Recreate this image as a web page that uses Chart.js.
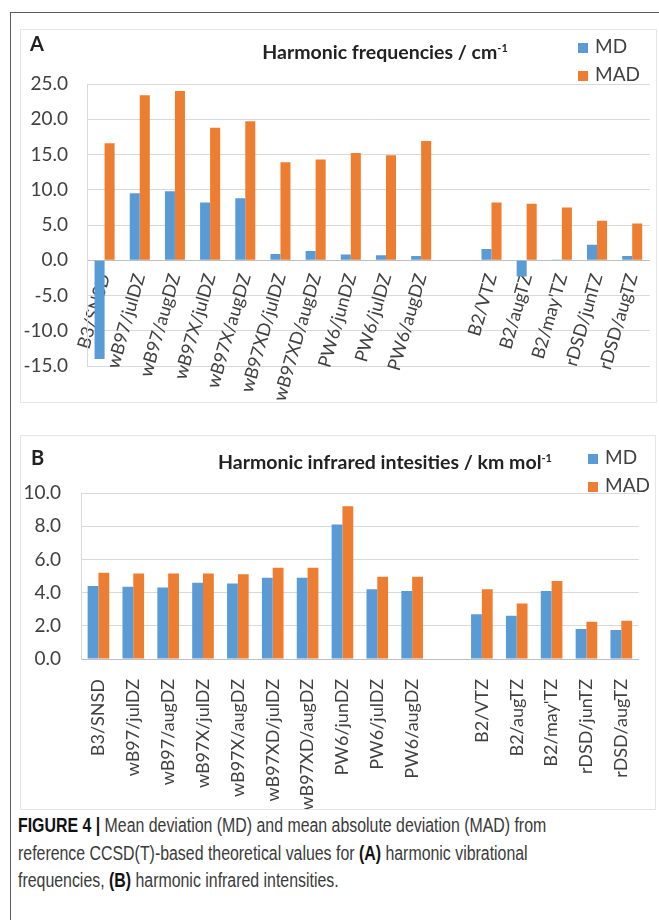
<!DOCTYPE html>
<html lang="en">
<head>
<meta charset="UTF-8">
<title>Figure 4</title>
<script src="https://cdn.jsdelivr.net/npm/chart.js@4"></script>
<style>
  body { margin: 0; width: 659px; height: 920px; position: relative; overflow: hidden; background: #fff; font-family: Lato, sans-serif; color: #222; }
  .frame { position: absolute; left: 10px; top: 12px; width: 660px; height: 920px; border-left: 1.5px solid #5a5a5a; border-top: 1.5px solid #5a5a5a; }
  .panel { position: absolute; border: 1px solid #e6e6e6; }
  .panel canvas { position: absolute; left: 0; top: 0; }
  .letter { position: absolute; font-weight: bold; font-size: 20px; line-height: 20px; }
  .ttl { position: absolute; font-weight: bold; font-size: 19.5px; line-height: 22px; white-space: nowrap; transform: translateX(-50%); color: #222; }
  .ttl sup { font-size: 11px; vertical-align: 7px; line-height: 0; }
  .legend { position: absolute; font-size: 19px; color: #404040; }
  .legend div { height: 28px; line-height: 28px; white-space: nowrap; }
  .legend span { display: inline-block; width: 10px; height: 10px; margin-right: 7px; }
  .caption { position: absolute; left: 18px; top: 812px; white-space: nowrap; font-family: "Liberation Sans", Arial, sans-serif; font-size: 19.5px; line-height: 27.5px; color: #3a3a3a; transform: scaleX(0.815); transform-origin: 0 0; }
  .caption b { color: #111; }
</style>
</head>
<body>
<div class="frame"></div>

<div class="panel" style="left:20px; top:29px; width:635px; height:372px;">
  <canvas id="chartA" width="635" height="372"></canvas>
</div>
<div class="letter" style="left:30px; top:33px;">A</div>
<div class="ttl" style="left:385px; top:41px;">Harmonic frequencies / cm<sup>-1</sup></div>
<div class="legend" id="legendA" style="left:578px; top:32px;"></div>

<div class="panel" style="left:20px; top:435px; width:634px; height:373px;">
  <canvas id="chartB" width="634" height="373"></canvas>
</div>
<div class="letter" style="left:31px; top:447px;">B</div>
<div class="ttl" style="left:385px; top:451px;">Harmonic infrared intesities / km mol<sup>-1</sup></div>
<div class="legend" id="legendB" style="left:588px; top:443px;"></div>

<div class="caption">
  <b>FIGURE 4 |</b> Mean deviation (MD) and mean absolute deviation (MAD) from<br>
  reference CCSD(T)-based theoretical values for <b>(A)</b> harmonic vibrational<br>
  frequencies, <b>(B)</b> harmonic infrared intensities.
</div>

<script>
// methods (empty slot = gap between the two groups)
const methods = ['B3/SNSD', 'wB97/julDZ', 'wB97/augDZ', 'wB97X/julDZ', 'wB97X/augDZ', 'wB97XD/julDZ', 'wB97XD/augDZ',
  'PW6/junDZ', 'PW6/julDZ', 'PW6/augDZ', '', 'B2/VTZ', 'B2/augTZ', "B2/may'TZ", 'rDSD/junTZ', 'rDSD/augTZ'];

const seriesNames = ['MD', 'MAD'];
const seriesColors = ['#5b9bd5', '#ed7d31'];

// A: harmonic frequencies, cm-1
const freqMD  = [-14.0, 9.5, 9.8, 8.2, 8.8, 0.9, 1.3, 0.8, 0.7, 0.6, null, 1.6, -2.3, 0.1, 2.2, 0.6];
const freqMAD = [16.6, 23.4, 24.0, 18.8, 19.7, 13.9, 14.3, 15.2, 14.9, 16.9, null, 8.2, 8.0, 7.5, 5.6, 5.2];

// B: harmonic IR intensities, km mol-1
const irMD  = [4.4, 4.35, 4.3, 4.6, 4.55, 4.9, 4.9, 8.1, 4.2, 4.1, null, 2.7, 2.6, 4.1, 1.8, 1.75];
const irMAD = [5.2, 5.15, 5.15, 5.15, 5.1, 5.5, 5.5, 9.2, 4.95, 4.95, null, 4.2, 3.35, 4.7, 2.25, 2.3];

const freqTicks = { min: -15, max: 25, step: 5 };
const irTicks = { min: 0, max: 10, step: 2 };

const tickFont = { family: 'Lato', size: 19 };
const catFont = { family: 'Lato', size: 18 };
const tickColor = '#404040';
const gridColor = '#d9d9d9';

function buildLegend(id) {
  const el = document.getElementById(id);
  seriesNames.forEach((n, i) => {
    const row = document.createElement('div');
    row.innerHTML = '<span style="background:' + seriesColors[i] + '"></span>' + n;
    el.appendChild(row);
  });
}
buildLegend('legendA');
buildLegend('legendB');

function datasets(md, mad, catPct) {
  return [md, mad].map((d, i) => ({
    label: seriesNames[i],
    data: d,
    backgroundColor: seriesColors[i],
    barPercentage: 1,
    categoryPercentage: catPct
  }));
}

function yScale(t, width, pad) {
  return {
    min: t.min, max: t.max,
    afterFit: s => { s.width = width; },
    grid: { color: gridColor, drawTicks: false },
    border: { color: gridColor },
    ticks: { stepSize: t.step, padding: pad, font: tickFont, color: tickColor, callback: v => v.toFixed(1) }
  };
}

new Chart(document.getElementById('chartA'), {
  type: 'bar',
  data: { labels: methods, datasets: datasets(freqMD, freqMAD, 0.57) },
  options: {
    responsive: false,
    animation: false,
    layout: { padding: { top: 54, left: 0, right: 1, bottom: 36 } },
    plugins: { legend: { display: false }, tooltip: { enabled: false } },
    scales: {
      x: {
        position: { y: 0 },
        z: 1,
        grid: { display: false },
        border: { color: '#bfbfbf' },
        ticks: { autoSkip: false, minRotation: 74, maxRotation: 74, padding: 3, font: catFont, color: tickColor }
      },
      y: yScale(freqTicks, 66, 19)
    }
  }
});

new Chart(document.getElementById('chartB'), {
  type: 'bar',
  data: { labels: methods, datasets: datasets(irMD, irMAD, 0.62) },
  options: {
    responsive: false,
    animation: false,
    layout: { padding: { top: 57, left: 0, right: 3, bottom: 0 } },
    plugins: { legend: { display: false }, tooltip: { enabled: false } },
    scales: {
      x: {
        afterFit: s => { s.height = 150; },
        grid: { display: false },
        border: { color: '#bfbfbf' },
        ticks: { autoSkip: false, minRotation: 90, maxRotation: 90, padding: 12, font: catFont, color: tickColor }
      },
      y: yScale(irTicks, 60, 20)
    }
  }
});
</script>
</body>
</html>
